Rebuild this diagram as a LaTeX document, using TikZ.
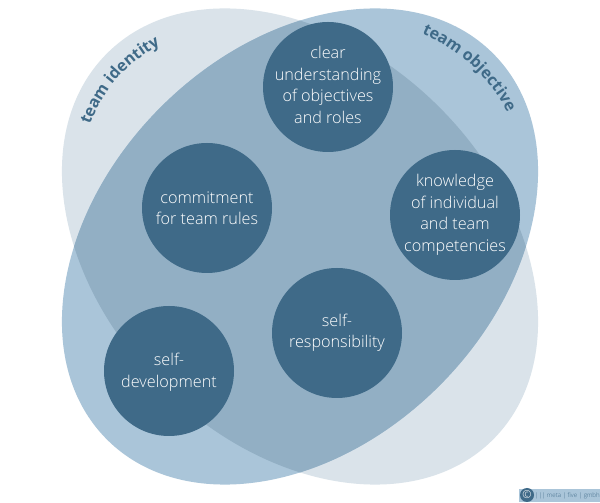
\documentclass[tikz,border=0pt]{standalone}
\usepackage{fontspec}
\setmainfont{Open Sans Light}
\newfontfamily\labelfont[BoldFont={Open Sans Bold}]{Open Sans}
\usetikzlibrary{decorations.text}
\definecolor{identityfill}{HTML}{DAE3EA}
\definecolor{objectivefill}{HTML}{AAC5D9}
\definecolor{overlapfill}{HTML}{92AFC4}
\definecolor{topicfill}{HTML}{3F6A88}
\tikzset{
  topic/.style={circle, fill=topicfill, minimum size=130pt, inner sep=-10pt, align=center, text=white, font=\fontsize{16.2}{21.5}\selectfont},
  curvelabel/.style={decorate, decoration={text along path, text align=center, text color=topicfill, text={|\labelfont\bfseries\fontsize{16}{16}\selectfont|#1}}}
}
\begin{document}
\begin{tikzpicture}[x=1pt,y=1pt]
\useasboundingbox (0,0) rectangle (600,503);
\fill[white] (0,0) rectangle (600,503);
% Team ellipses
\fill[identityfill] (300,256.5) [rotate around={45:(300,256.5)}] ellipse [x radius=197, y radius=273];
\fill[objectivefill] (300,256.5) [rotate around={-45:(300,256.5)}] ellipse [x radius=197, y radius=273];
\begin{scope}
\clip (300,256.5) [rotate around={45:(300,256.5)}] ellipse [x radius=197, y radius=273];
\fill[overlapfill] (300,256.5) [rotate around={-45:(300,256.5)}] ellipse [x radius=197, y radius=273];
\end{scope}

% Topic nodes
\node[topic, text depth=4pt] (roles) at (328,416) {clear\\understanding\\of objectives\\and roles};
\node[topic] (rules) at (207,295) {commitment\\for team rules};
\node[topic] (skills) at (455,288) {knowledge\\of individual\\and team\\competencies};
\node[topic] (resp) at (337,170) {self-\\responsibility};
\node[topic, text depth=1.5pt] (devel) at (169,132) {self-\\development};

% Labels
\path[curvelabel={team identity}] (87,370) .. controls (103,417) and (128,442) .. (168,462);
\path[curvelabel={team objective}] (412,474) .. controls (457,456) and (492,426) .. (512,381);

% Logo
\fill[objectivefill] (519,1) rectangle (600,14);
\node[circle, fill=topicfill, minimum size=14pt, inner sep=-4pt, text=white, font=\fontsize{11}{11}\selectfont] (logo) at (527,8) {©};
\node[anchor=west, inner sep=0pt, text=topicfill, font=\fontsize{6.2}{6.2}\selectfont] (logotext) at (535,7.5) {||| meta | five | gmbh};
\end{tikzpicture}
\end{document}
